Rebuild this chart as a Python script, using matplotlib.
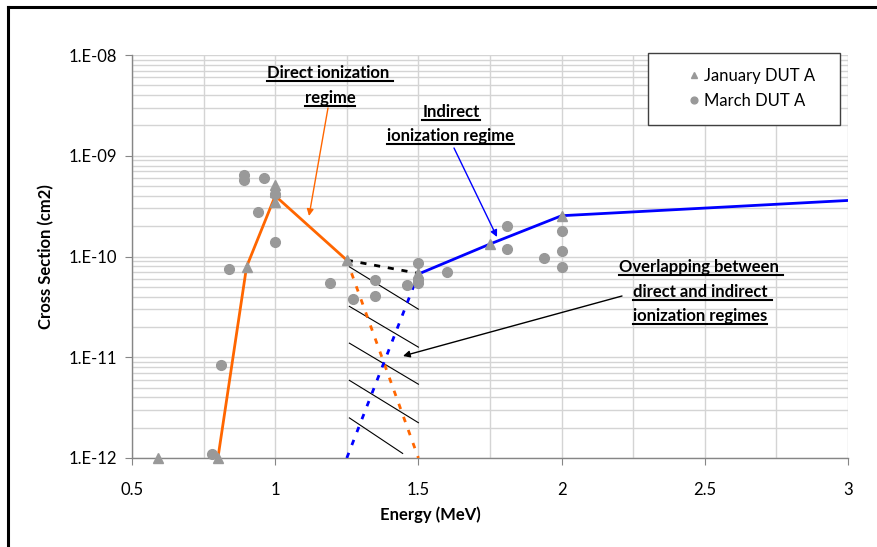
import numpy as np
import matplotlib
matplotlib.use('Agg')
import matplotlib.pyplot as plt
from matplotlib.lines import Line2D
from matplotlib.patches import Rectangle, FancyArrowPatch
from matplotlib.ticker import FixedLocator, FixedFormatter, LogLocator, NullFormatter

plt.rcParams['font.family'] = ['Lato', 'DejaVu Sans']

jan_x = [0.59, 0.8, 0.9, 1.0, 1.0, 1.0, 1.25, 1.5, 1.75, 2.0]
jan_y = [1e-12, 1e-12, 7.9e-11, 5.1e-10, 4.4e-10, 3.5e-10, 9.2e-11, 6.8e-11, 1.33e-10, 2.54e-10]

march_x = [0.78, 0.81, 0.84, 0.89, 0.89, 0.94, 0.96, 1.0, 1.0, 1.19, 1.27, 1.35, 1.35,
           1.46, 1.5, 1.5, 1.5, 1.6, 1.81, 1.81, 1.94, 2.0, 2.0, 2.0]
march_y = [1.09e-12, 8.4e-12, 7.6e-11, 6.4e-10, 5.7e-10, 2.75e-10, 5.97e-10, 4.2e-10, 1.4e-10,
           5.4e-11, 3.8e-11, 5.8e-11, 4.05e-11, 5.2e-11, 8.6e-11, 5.8e-11, 5.4e-11, 7.0e-11,
           2.0e-10, 1.19e-10, 9.7e-11, 1.8e-10, 1.14e-10, 7.8e-11]

# regime trend lines
direct_x = [0.8, 0.9, 1.0, 1.25]
direct_y = [1e-12, 7.9e-11, 4.0e-10, 9.2e-11]
direct_tail_x = [1.25, 1.5]
direct_tail_y = [9.2e-11, 1e-12]
indirect_x = [1.5, 1.75, 2.0, 3.0]
indirect_y = [6.7e-11, 1.33e-10, 2.54e-10, 3.6e-10]
indirect_tail_x = [1.25, 1.5]
indirect_tail_y = [1e-12, 6.7e-11]
overlap_x = [1.25, 1.5]
overlap_y = [9.2e-11, 6.8e-11]

# hatch strokes in the overlap zone
hatch_x0 = [1.259, 1.259, 1.259, 1.259, 1.259]
hatch_x1 = [1.5, 1.5, 1.5, 1.5, 1.445]
hatch_y0 = [7.9e-11, 3.2e-11, 1.38e-11, 5.9e-12, 2.5e-12]
hatch_y1 = [3.0e-11, 1.26e-11, 5.4e-12, 2.24e-12, 1.11e-12]

xticks = [0.5, 1.0, 1.5, 2.0, 2.5, 3.0]
xtick_labels = ['0.5', '1', '1.5', '2', '2.5', '3']
yticks = [1e-12, 1e-11, 1e-10, 1e-9, 1e-8]
ytick_labels = ['1.E-12', '1.E-11', '1.E-10', '1.E-09', '1.E-08']

W, H = 877, 547
GRAY = '#999999'
GRID = '#d4d4d4'
ORANGE = '#ff6600'
BLUE = '#0000ff'


def fx(px):
    return px / W


def fy(py):
    return 1 - py / H


fig = plt.figure(figsize=(W / 100, H / 100), dpi=100)
ax = fig.add_axes([fx(132), fy(458), fx(848) - fx(132), fy(55) - fy(458)])
ax.set_yscale('log')
ax.set_xlim(0.5, 3.0)
ax.set_ylim(1e-12, 1e-8)

# grid
ax.xaxis.set_major_locator(FixedLocator(xticks))
ax.xaxis.set_major_formatter(FixedFormatter(xtick_labels))
ax.xaxis.set_minor_locator(FixedLocator(np.arange(0.75, 3.0, 0.5)))
ax.yaxis.set_major_locator(FixedLocator(yticks))
ax.yaxis.set_major_formatter(FixedFormatter(ytick_labels))
ax.yaxis.set_minor_locator(LogLocator(base=10, subs=np.arange(2, 10)))
ax.yaxis.set_minor_formatter(NullFormatter())
ax.grid(which='both', color=GRID, lw=1.0)
ax.set_axisbelow(True)
ax.tick_params(axis='both', which='major', labelsize=12, color='#868686', length=5,
               labelcolor='black')
ax.tick_params(axis='both', which='minor', length=0)
ax.tick_params(axis='x', pad=12)
ax.tick_params(axis='y', pad=6)
for s in ['top', 'right']:
    ax.spines[s].set_visible(False)
for s in ['left', 'bottom']:
    ax.spines[s].set_color('#868686')
    ax.spines[s].set_linewidth(1.0)

ax.set_xlabel('Energy (MeV)', fontsize=12, fontweight='bold')
ax.xaxis.set_label_coords((430 - 132) / 716, (458 - 506) / 403)
ax.set_ylabel('Cross Section (cm2)', fontsize=12, fontweight='bold', labelpad=10)

# hatch strokes
for a, b, c, d in zip(hatch_x0, hatch_x1, hatch_y0, hatch_y1):
    ax.plot([a, b], [c, d], color='black', lw=0.8, zorder=2)

# trend lines
ax.plot(direct_x, direct_y, color=ORANGE, lw=2.0, zorder=3)
ax.plot(direct_tail_x, direct_tail_y, color=ORANGE, lw=2.0, ls=(0, (2, 3)), zorder=3)
ax.plot(indirect_x, indirect_y, color=BLUE, lw=2.0, zorder=3)
ax.plot(indirect_tail_x, indirect_tail_y, color=BLUE, lw=2.0, ls=(0, (2, 3)), zorder=3)
ax.plot(overlap_x, overlap_y, color='black', lw=2.0, ls=(0, (2.2, 2.8)), zorder=3)

# data points
h1, = ax.plot(jan_x, jan_y, ls='none', marker='^', ms=7, color=GRAY, mec=GRAY,
              label='January DUT A', zorder=4, clip_on=False)
h2, = ax.plot(march_x, march_y, ls='none', marker='o', ms=7, color=GRAY, mec=GRAY,
              label='March DUT A', zorder=4, clip_on=False)

# legend box drawn by hand so its width matches
fig.add_artist(Rectangle((fx(648), fy(125)), fx(840) - fx(648), fy(53) - fy(125),
                         transform=fig.transFigure, facecolor='white', edgecolor='#404040',
                         lw=1.0, zorder=1))
fig.legend(handles=[h1, h2], loc='upper left', bbox_to_anchor=(fx(687), fy(68)),
           bbox_transform=fig.transFigure, fontsize=12, frameon=False,
           borderpad=0, labelspacing=0.55, handlelength=0.8, handletextpad=0.25,
           borderaxespad=0, markerscale=0.7)

# annotation texts (each line separately so it can be underlined)
notes = [
    ('Direct ionization ', 330, 73, 'center'),
    ('regime', 330, 98, 'center'),
    ('Indirect', 451, 112, 'center'),
    ('ionization regime', 450, 136, 'center'),
    ('Overlapping between ', 619, 267, 'left'),
    ('direct and indirect ', 633, 292, 'left'),
    ('ionization regimes', 633, 316, 'left'),
]
texts = []
for s, x, y, ha in notes:
    t = fig.text(fx(x), fy(y), s, ha=ha, va='center', fontsize=12, fontweight='bold')
    texts.append(t)

fig.canvas.draw()
r = fig.canvas.get_renderer()
for t in texts:
    bb = t.get_window_extent(r)
    yl = bb.y0 + 0.5
    fig.add_artist(Line2D([bb.x0 / W, bb.x1 / W], [yl / H, yl / H], color='black', lw=1.5,
                          transform=fig.transFigure))

# arrows
arrows = [
    ((328, 108), (309, 216), ORANGE),
    ((454, 148), (497, 237), BLUE),
    ((622, 296), (403, 356), 'black'),
]
for (x0, y0), (x1, y1), c in arrows:
    fig.add_artist(FancyArrowPatch(
        (fx(x0), fy(y0)), (fx(x1), fy(y1)), transform=fig.transFigure,
        arrowstyle='-|>', mutation_scale=10, color=c, lw=1.0, shrinkA=0, shrinkB=0))

# chart frame (left and top visible)
fig.add_artist(Line2D([fx(8), fx(8)], [0, fy(7)], color='black', lw=2.2, transform=fig.transFigure))
fig.add_artist(Line2D([fx(8), 1], [fy(7), fy(7)], color='black', lw=2.2, transform=fig.transFigure))

fig.savefig('out.png', dpi=100)
